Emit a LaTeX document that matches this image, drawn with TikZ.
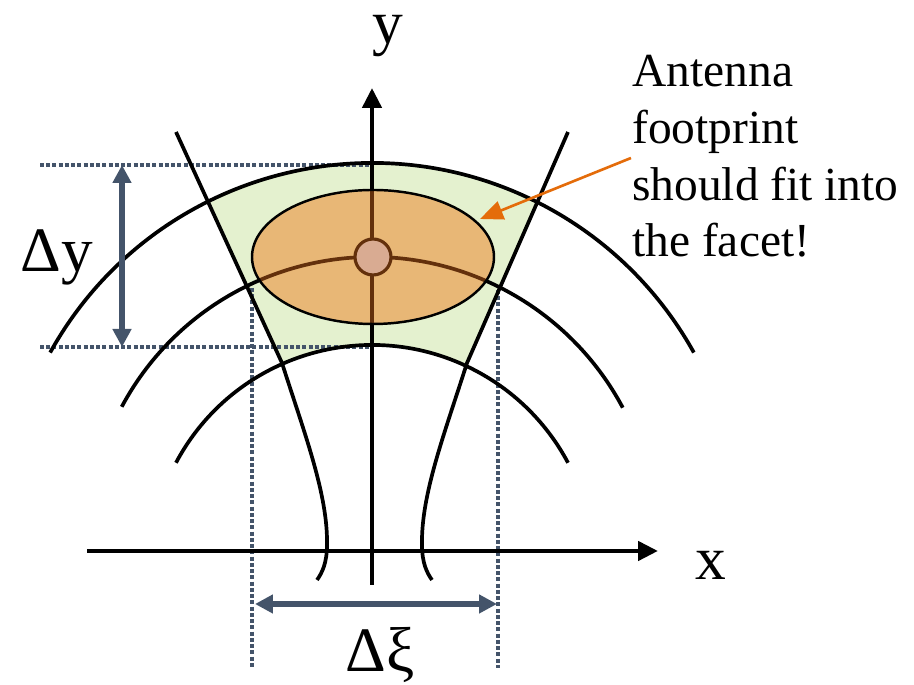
\documentclass[tikz,border=0pt]{standalone}
\usepackage{fontspec}
\setmainfont{Liberation Serif}
\usetikzlibrary{arrows.meta,calc}
\definecolor{facetgreen}{RGB}{228,241,207}
\definecolor{footorange}{RGB}{232,183,118}
\definecolor{centrepink}{RGB}{217,171,146}
\definecolor{darkbrown}{RGB}{99,48,12}
\definecolor{slategrey}{RGB}{68,84,106}
\definecolor{callorange}{RGB}{228,108,10}

\begin{document}
\begin{tikzpicture}[
  x=0.02cm, y=0.02cm,
  axis/.style={line width=2.6pt, -{Triangle[length=4mm, width=3.8mm]}},
  curve/.style={line width=2.1pt, black},
  guide/.style={line width=1.9pt, slategrey, dash pattern=on 0.08cm off 0.045cm},
  measure/.style={line width=3pt, slategrey, {Triangle[length=3.6mm, width=3.6mm]}-{Triangle[length=3.6mm, width=3.6mm]}},
  callout/.style={line width=1.5pt, callorange, -{Triangle[length=4.6mm, width=3.8mm]}},
  biglabel/.style={inner sep=0pt, font=\fontsize{35}{40}\selectfont},
  note/.style={inner sep=0pt, align=left, anchor=north west, font=\fontsize{27}{32.3}\selectfont}
]
\useasboundingbox (0,0) rectangle (914,685);

% centres of the three range arcs
\coordinate (ctop) at (372,154);
\coordinate (cmid) at (372,144);
\coordinate (cbot) at (372,118);

% facet corners
\coordinate (tl) at (176,553);
\coordinate (bl) at (282,322);
\coordinate (br) at (467,322);
\coordinate (tr) at (568,553);

% facet fill
\begin{scope}
  \clip (tl) -- (bl) -- (br) -- (tr) -- cycle;
  \fill[facetgreen, even odd rule] (ctop) circle (368) (cbot) circle (222);
\end{scope}

% dotted guides
\coordinate (gtl) at (40,520);
\coordinate (gtr) at (372,520);
\coordinate (gbl) at (40,338);
\coordinate (gbr) at (372,338);
\coordinate (vlt) at (252,397);
\coordinate (vlb) at (252,17);
\coordinate (vrt) at (498,395);
\coordinate (vrb) at (498,17);
\draw[guide] (gtl) -- (gtr);
\draw[guide] (gbl) -- (gbr);
\draw[guide] (vlt) -- (vlb);
\draw[guide] (vrt) -- (vrb);

% range arcs
\draw[curve] ($(ctop)+(151:368)$) arc[start angle=151, end angle=29, radius=368];
\draw[curve] ($(cmid)+(151.8:284)$) arc[start angle=151.8, end angle=28, radius=284];
\draw[curve] ($(cbot)+(152:222)$) arc[start angle=152, end angle=28, radius=222];

% azimuth lines
\draw[curve] (tl) -- (bl) .. controls (305,250) and (328,190) .. (327,140)
  .. controls (327,122) and (322,112) .. (317,105);
\draw[curve] (tr) -- (br) .. controls (444,250) and (421,190) .. (422,140)
  .. controls (422,122) and (427,112) .. (432,105);

% axes
\coordinate (yfoot) at (372,100);
\coordinate (ytip) at (372,597);
\coordinate (xfoot) at (87,134);
\coordinate (xtip) at (658,134);
\draw[axis] (yfoot) -- (ytip);
\draw[axis] (xfoot) -- (xtip);
\node[biglabel, anchor=base] (ylab) at (388,641) {y};
\node[biglabel, anchor=base] (xlab) at (711,105) {x};

% footprint
\fill[footorange] (373,428) ellipse [x radius=121, y radius=67];
\begin{scope}
  \clip (373,428) ellipse [x radius=121, y radius=67];
  \draw[line width=2.1pt, darkbrown] (yfoot) -- (ytip);
  \draw[line width=2.1pt, darkbrown] ($(cmid)+(151.8:284)$) arc[start angle=151.8, end angle=28, radius=284];
\end{scope}
\draw[line width=1.4pt] (373,428) ellipse [x radius=121, y radius=67];
\node[circle, draw=darkbrown, line width=1.8pt, fill=centrepink, inner sep=0pt, minimum size=0.72cm] (centre) at (373,428) {};

% measures
\coordinate (dytop) at (122,520);
\coordinate (dybot) at (122,338);
\coordinate (dxl) at (255,81);
\coordinate (dxr) at (497,81);
\draw[measure] (dytop) -- (dybot);
\draw[measure] (dxl) -- (dxr);
\node[biglabel, anchor=base west, font=\fontsize{36}{40}\selectfont] (dylab) at (20,413) {Δy};
\node[biglabel, anchor=base west, font=\fontsize{36}{40}\selectfont] (dxilab) at (345,13) {Δξ};

% note
\node[note] (fit) at (632,630) {Antenna\\footprint\\should fit into\\the facet!};
\coordinate (tail) at (631,527);
\coordinate (head) at (480,466);
\draw[callout] (tail) -- (head);
\end{tikzpicture}
\end{document}
